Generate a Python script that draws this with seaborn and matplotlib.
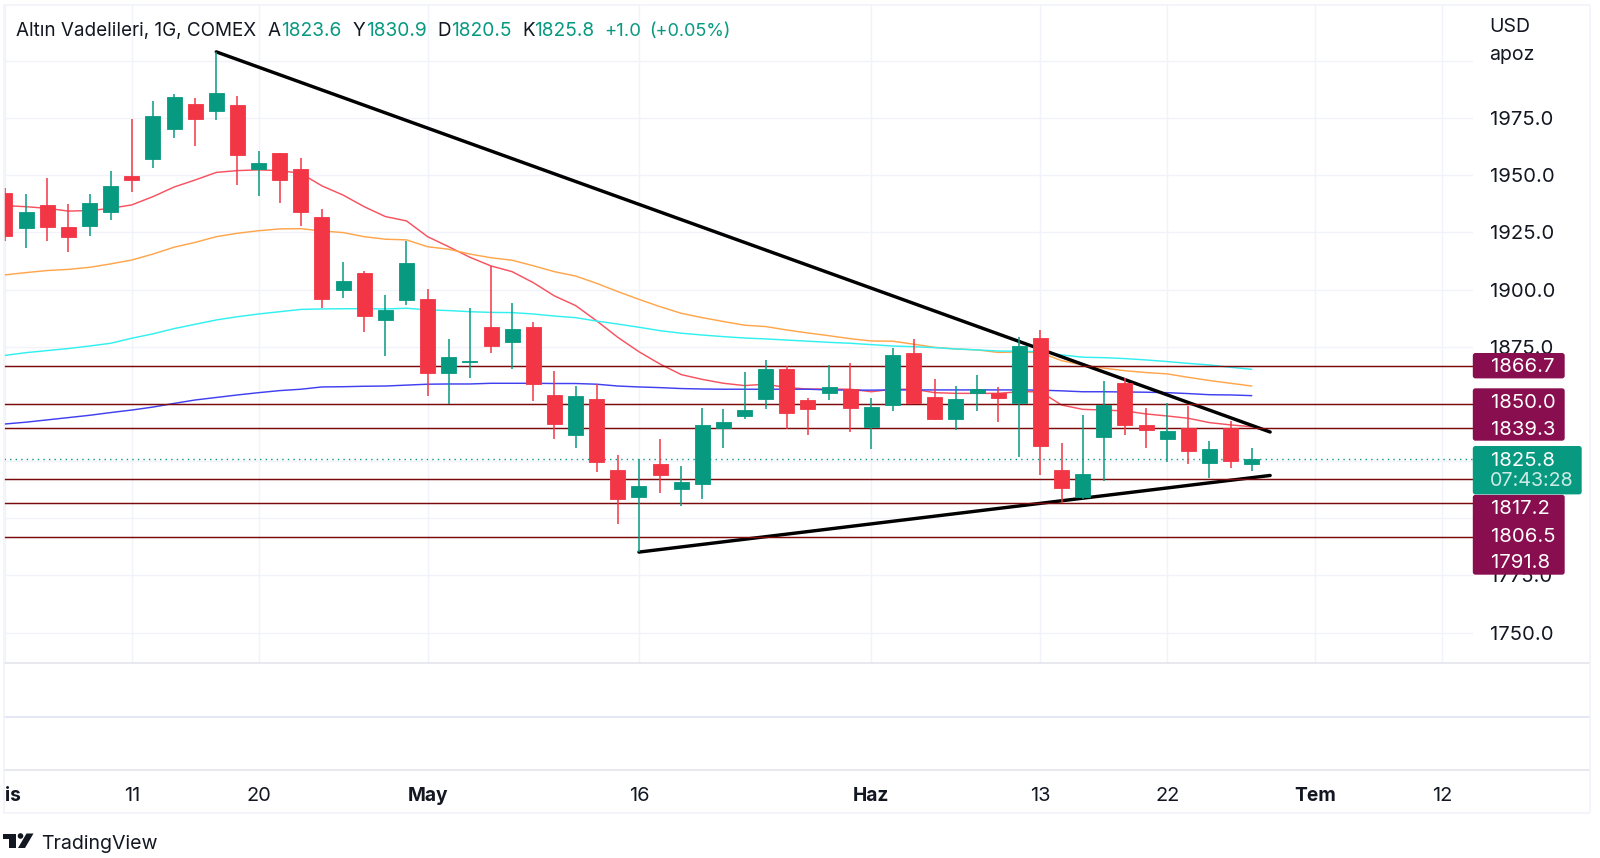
import matplotlib
matplotlib.use("Agg")
import matplotlib.pyplot as plt
from matplotlib.patches import FancyBboxPatch, Polygon, Circle
import seaborn as sns

# ---- data ----
OPEN = [1942.1,1927.1,1937.0,1927.2,1927.9,1933.9,1949.6,1957.1,1970.2,1981.1,1978.1,1980.8,1952.6,1959.7,1952.9,
        1931.7,1899.7,1907.2,1886.5,1895.6,1895.7,1863.5,1868.2,1883.8,1877.2,1883.5,1853.7,1836.5,1852.0,1821.1,
        1809.3,1823.6,1812.9,1815.1,1839.6,1844.6,1852.0,1865.1,1851.6,1854.9,1856.4,1839.8,1849.7,1872.3,1853.2,
        1843.4,1854.8,1854.6,1850.3,1878.8,1821.0,1809.3,1835.7,1859.3,1840.6,1834.8,1839.3,1824.0,1839.3,1823.6]
HIGH = [1944.3,1941.6,1948.8,1937.4,1941.6,1952.0,1974.4,1982.4,1985.5,1983.6,2003.9,1984.6,1960.4,1959.7,1957.5,
        1935.2,1912.2,1908.0,1897.6,1921.2,1900.1,1878.2,1891.8,1910.3,1894.0,1885.7,1864.5,1857.7,1858.7,1827.5,
        1825.9,1834.8,1822.7,1848.2,1847.6,1864.1,1869.1,1866.6,1852.7,1867.0,1867.7,1852.7,1874.3,1878.2,1861.0,
        1858.0,1862.5,1857.5,1879.3,1882.5,1833.1,1845.2,1860.0,1861.2,1848.2,1850.3,1848.9,1833.8,1842.7,1830.9]
LOW = [1921.4,1918.3,1921.1,1916.3,1923.6,1930.4,1942.8,1953.3,1966.4,1962.9,1974.1,1945.6,1941.0,1937.8,1927.9,
       1892.1,1896.5,1881.6,1870.9,1893.2,1853.6,1850.1,1861.3,1872.4,1865.1,1851.3,1834.7,1830.9,1820.2,1797.3,
       1785.2,1811.2,1805.4,1808.4,1830.9,1843.3,1847.9,1838.9,1836.4,1851.9,1837.9,1830.3,1846.8,1850.2,1843.1,
       1838.4,1846.8,1841.9,1826.8,1819.1,1806.5,1808.3,1816.3,1836.4,1830.9,1824.7,1823.6,1817.6,1822.0,1820.5]
CLOSE = [1923.6,1933.9,1927.5,1922.8,1937.7,1945.3,1948.0,1975.7,1984.3,1974.7,1986.1,1958.8,1955.2,1948.0,1933.9,
         1896.0,1903.9,1888.6,1891.1,1911.5,1863.6,1870.4,1868.8,1875.5,1882.8,1858.7,1841.1,1853.3,1824.4,1808.3,
         1814.0,1818.9,1815.7,1840.9,1841.9,1847.5,1865.1,1846.2,1847.6,1857.3,1848.4,1848.5,1871.4,1850.3,1843.5,
         1852.0,1856.5,1852.7,1875.3,1831.7,1813.4,1819.5,1849.7,1840.6,1838.7,1838.1,1829.6,1830.1,1824.9,1825.8]

MA_RED = [1936.7,1936.2,1935.5,1934.3,1934.5,1935.5,1937.0,1940.6,1944.8,1947.9,1951.2,1952.0,1952.3,1952.0,1950.8,
          1945.3,1941.3,1936.2,1931.9,1930.0,1923.1,1918.7,1914.1,1910.3,1907.8,1903.0,1897.2,1893.0,1886.3,1879.1,
          1872.8,1867.4,1862.8,1860.7,1859.0,1858.0,1858.6,1857.1,1856.5,1856.5,1856.4,1855.3,1856.4,1856.4,1854.9,
          1854.6,1854.6,1854.6,1855.3,1855.3,1849.5,1847.6,1847.3,1846.9,1845.6,1844.7,1843.7,1841.8,1840.8,1840.0]
MA_ORANGE = [1906.4,1907.4,1908.3,1908.8,1909.7,1911.2,1912.9,1915.5,1918.5,1920.6,1923.1,1924.6,1925.7,1926.5,1926.6,
             1925.6,1924.9,1923.1,1922.0,1921.7,1918.7,1917.6,1915.5,1913.9,1912.8,1910.4,1907.8,1905.9,1902.7,1899.1,
             1895.7,1892.5,1889.6,1887.7,1886.0,1884.4,1883.8,1882.3,1881.0,1879.8,1878.5,1877.5,1877.4,1876.1,1874.7,
             1874.0,1873.6,1872.5,1872.7,1872.4,1868.9,1867.0,1865.6,1864.5,1863.7,1863.1,1861.6,1860.2,1859.0,1857.8]
MA_CYAN = [1871.2,1872.4,1873.3,1874.2,1875.3,1876.5,1878.7,1880.6,1882.9,1884.8,1886.7,1888.1,1889.3,1890.3,1891.3,
           1891.5,1891.6,1891.6,1891.5,1891.8,1891.1,1890.8,1890.3,1890.0,1889.9,1889.3,1888.4,1887.7,1886.2,1884.9,
           1883.5,1882.0,1880.9,1880.1,1879.4,1878.8,1878.4,1877.9,1877.4,1876.9,1876.5,1875.9,1875.3,1875.0,1874.6,
           1874.0,1873.6,1873.1,1873.0,1872.8,1871.4,1870.4,1870.2,1869.8,1869.2,1868.5,1867.7,1867.0,1866.0,1865.1]
MA_BLUE = [1841.2,1842.0,1843.0,1844.0,1845.0,1846.2,1847.3,1848.6,1850.2,1851.7,1852.8,1853.9,1854.9,1855.8,1856.4,
           1857.4,1857.5,1857.7,1857.8,1858.2,1858.6,1858.7,1858.7,1859.0,1859.0,1859.0,1858.9,1858.9,1858.6,1857.8,
           1857.4,1857.1,1856.7,1856.5,1856.4,1856.4,1856.4,1856.4,1856.4,1856.1,1856.0,1856.0,1856.1,1856.1,1856.1,
           1856.1,1856.1,1856.1,1856.1,1856.0,1855.7,1855.3,1855.3,1855.2,1855.1,1854.9,1854.5,1854.0,1853.9,1853.6]

TOP_X, TOP_Y = [10, 59.87], [2003.9, 1837.7]
BOTTOM_X, BOTTOM_Y = [30, 59.87], [1785.2, 1818.7]

LEVELS = [1866.7, 1850.0, 1839.3, 1817.2, 1806.5, 1791.8]
LAST_PRICE = 1825.8
TIMER = "07:43:28"

PRICE_TICKS = [1750, 1775, 1800, 1825, 1850, 1875, 1900, 1925, 1950, 1975, 2000]
PRICE_LABELS = ["1750.0", "1775.0", "", "", "", "1875.0", "1900.0", "1925.0", "1950.0", "1975.0", ""]
TIME_TICKS = [0, 6, 12, 20, 30, 41, 49, 55, 62, 68]
TIME_LABELS = ["is", "11", "20", "May", "16", "Haz", "13", "22", "Tem", "12"]
MONTHS = {"is", "May", "Haz", "Tem"}

# ---- style ----
sns.set_theme(style="white")
plt.rcParams["font.family"] = ["Inter", "DejaVu Sans"]
W, H = 1600, 858
UP, DOWN = "#089981", "#F23645"
INK = "#131722"
GRID = "#F0F3FA"
FS = 14.6


def box(left, top, right, bottom):
    return [left / W, 1 - bottom / H, (right - left) / W, (bottom - top) / H]


fig = plt.figure(figsize=(W / 100, H / 100), dpi=100, facecolor="white")
ax = fig.add_axes(box(4, 5, 1473, 663))
ax.set_facecolor("white")
for s in ax.spines.values():
    s.set_visible(False)
ax.set_xlim(-0.047, 69.47)
ax.set_ylim(1736.7, 2024.4)
ax.set_xticks(TIME_TICKS)
ax.set_xticklabels([])
ax.yaxis.tick_right()
ax.set_yticks(PRICE_TICKS)
ax.set_yticklabels(PRICE_LABELS, fontsize=FS, color=INK)
ax.tick_params(axis="both", length=0)
ax.tick_params(axis="y", pad=12.5)
ax.grid(True, color=GRID, linewidth=1.0)
ax.set_axisbelow(True)

idx = list(range(len(OPEN)))
for vals, col in [(MA_RED, "#F7525F"), (MA_ORANGE, "#FFA64D"), (MA_CYAN, "#33F0F0"), (MA_BLUE, "#4040F0")]:
    sns.lineplot(x=idx, y=vals, color=col, linewidth=1.05, ax=ax, zorder=2, legend=False)

for xs, ys in [(TOP_X, TOP_Y), (BOTTOM_X, BOTTOM_Y)]:
    sns.lineplot(x=xs, y=ys, color="black", linewidth=2.45, ax=ax, zorder=2.5, legend=False)

ax.hlines(LEVELS, -0.047, 69.47, color="#7B0A0A", linewidth=1.05, zorder=3)
ax.hlines([LAST_PRICE], -0.047, 69.47, color=UP, linewidth=1.0, linestyles=(0, (1, 3)), zorder=3)

colors = [UP if c >= o else DOWN for o, c in zip(OPEN, CLOSE)]
ax.vlines(idx, LOW, HIGH, colors=colors, linewidth=1.1, zorder=4)
ax.bar(idx, [abs(c - o) for o, c in zip(OPEN, CLOSE)], bottom=[min(o, c) for o, c in zip(OPEN, CLOSE)],
       width=0.71, color=colors, edgecolor=colors, linewidth=0.6, zorder=5)
ax.set_xlim(-0.047, 69.47)
ax.set_ylim(1736.7, 2024.4)
ax.set_xlabel("")
ax.set_ylabel("")

# time axis
tax = fig.add_axes(box(4, 770, 1473, 774))
tax.set_facecolor("none")
for s in tax.spines.values():
    s.set_visible(False)
tax.set_xlim(-0.047, 69.47)
tax.set_yticks([])
tax.set_xticks(TIME_TICKS)
tax.set_xticklabels(TIME_LABELS, fontsize=14.4, color=INK)
tax.tick_params(axis="x", length=0, pad=9.5)
for lab in tax.get_xticklabels():
    if lab.get_text() in MONTHS:
        lab.set_fontweight("bold")
        lab.set_fontsize(13.8)
    if lab.get_text() == "is":
        lab.set_ha("left")

# overlay in pixel coordinates: frame, tags, header, logo
ov = fig.add_axes([0, 0, 1, 1], zorder=10)
ov.set_xlim(0, W)
ov.set_ylim(H, 0)
ov.axis("off")
ov.patch.set_alpha(0)

ov.hlines([662.7, 770], 3, 1590, color="#E0E3EB", linewidth=1.1)
ov.hlines([716.7], 3, 1590, color="#DDE0F2", linewidth=1.1)
ov.hlines([4.5, 813], 3, 1590, color="#F0F3FA", linewidth=1.1)
ov.vlines([3.5, 1590], 4.5, 813, color="#F0F3FA", linewidth=1.1)


def tag(top, bottom, right, color):
    ov.add_patch(FancyBboxPatch((1473.5, top + 1), right - 1474.5, bottom - top - 2,
                                boxstyle="round,pad=0,rounding_size=2", facecolor=color,
                                edgecolor=color, linewidth=1))


MAROON = "#880E4F"
tag(352.7, 378.7, 1565, MAROON)
tag(388, 441, 1565, MAROON)
tag(494.5, 575, 1565, MAROON)
tag(445.7, 494.7, 1582, UP)

for y, txt in [(367, "1866.7"), (403, "1850.0"), (430, "1839.3"), (460.5, "1825.8"),
               (509.5, "1817.2"), (536.5, "1806.5"), (563.5, "1791.8")]:
    ov.text(1490.5, y, txt, color="white", fontsize=FS, va="center", ha="left")
ov.text(1489.5, 481.5, TIMER, color="#CDEBE5", fontsize=14.2, va="center", ha="left")

ov.text(1489, 27, "USD", color=INK, fontsize=14, va="center", ha="left")
ov.text(1489, 55, "apoz", color=INK, fontsize=14, va="center", ha="left")

HEADER = [(16.5, "Altın Vadelileri, 1G, COMEX", INK, 13.6), (268, "A", INK, 13.6), (281, "1823.6", UP, 13.8),
          (353, "Y", INK, 13.6), (366, "1830.9", UP, 13.8), (437, "D", INK, 13.6), (451, "1820.5", UP, 13.8),
          (522, "K", INK, 13.6), (534, "1825.8", UP, 13.8), (604, "+1.0", UP, 13.4), (649, "(+0.05%)", UP, 13)]
for x, txt, col, size in HEADER:
    ov.text(x, 31, txt, color=col, fontsize=size, va="center", ha="left")

ov.add_patch(Polygon([(3, 833.5), (16, 833.5), (16, 848), (9, 848), (9, 839), (3, 839)], facecolor=INK, edgecolor="none"))
ov.add_patch(Circle((20.5, 836), 2.8, facecolor=INK, edgecolor="none"))
ov.add_patch(Polygon([(26.5, 833.5), (33.5, 833.5), (25, 848), (18, 848)], facecolor=INK, edgecolor="none"))
ov.text(41, 844, "TradingView", color=INK, fontsize=14.1, va="center", ha="left")

fig.savefig("out.png", dpi=100)
